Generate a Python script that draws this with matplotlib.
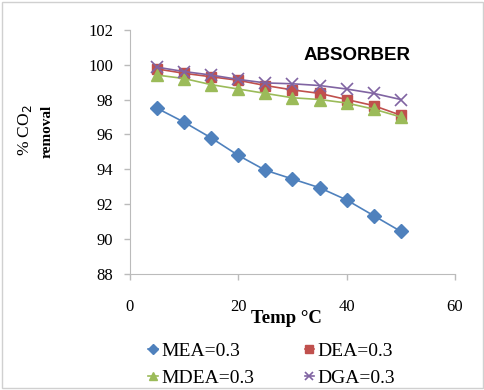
import matplotlib.pyplot as plt
from matplotlib.patches import Rectangle

# dados
temp = [5, 10, 15, 20, 25, 30, 35, 40, 45, 50]
mea = [97.5, 96.7, 95.8, 94.8, 93.95, 93.45, 92.95, 92.25, 91.35, 90.45]
dea = [99.75, 99.5, 99.3, 99.1, 98.8, 98.55, 98.35, 98.0, 97.65, 97.1]
mdea = [99.4, 99.2, 98.85, 98.6, 98.35, 98.1, 98.0, 97.8, 97.45, 97.0]
dga = [99.85, 99.6, 99.4, 99.15, 98.95, 98.9, 98.8, 98.6, 98.35, 98.0]
labels = ["MEA=0.3", "DEA=0.3", "MDEA=0.3", "DGA=0.3"]

plt.rcParams['font.family'] = ['Liberation Serif', 'DejaVu Serif']

fig = plt.figure(figsize=(4.85, 3.9), dpi=100)
ax = fig.add_axes([0.268, 0.297, 0.67, 0.627])

l1, = ax.plot(temp, mea, color="#4F81BD", marker="D", markersize=7, lw=1.2, label=labels[0])
l2, = ax.plot(temp, dea, color="#C0504D", marker="s", markersize=7, lw=1.2, label=labels[1])
l3, = ax.plot(temp, mdea, color="#9BBB59", marker="^", markersize=8, lw=1.2, label=labels[2])
l4, = ax.plot(temp, dga, color="#8064A2", marker="x", markersize=8, mew=1.2, lw=1.2, label=labels[3])

ax.set_xlim(0, 60)
ax.set_ylim(88, 102)
ax.set_xticks([0, 20, 40, 60])
ax.set_yticks(range(88, 103, 2))
ax.tick_params(labelsize=12, length=4, color="#BBBBBB", width=1)
ax.tick_params(axis="x", pad=14)
ax.tick_params(axis="y", pad=8)
for s in ["top", "right"]:
    ax.spines[s].set_visible(False)
for s in ["left", "bottom"]:
    ax.spines[s].set_color("#BBBBBB")

ax.text(0.70, 0.895, "ABSORBER", transform=ax.transAxes, ha="center", va="center",
        fontsize=13.5, fontweight="bold", family="Liberation Sans")

# titulo eixo x por cima dos ticks
fig.text(0.59, 0.183, "Temp \u00b0C", ha="center", va="center", fontsize=13.5, fontweight="bold")
# titulo eixo y em duas linhas
fig.text(0.052, 0.667, "% CO$_2$", rotation=90, ha="center", va="center", fontsize=12.5)
fig.text(0.096, 0.664, "removal", rotation=90, ha="center", va="center", fontsize=11, fontweight="bold")

# legenda: linha 1 MEA / DEA, linha 2 MDEA / DGA
fig.legend([l1, l3, l2, l4], [labels[0], labels[2], labels[1], labels[3]],
           loc="center", bbox_to_anchor=(0.56, 0.065), ncol=2, frameon=False,
           fontsize=14, handlelength=0.5, handletextpad=0.15, columnspacing=2.6,
           labelspacing=0.45, markerscale=0.75, numpoints=1)

fig.add_artist(Rectangle((0.004, 0.004), 0.992, 0.992, transform=fig.transFigure,
                         fill=False, edgecolor="#D0D0D0", lw=1))

fig.savefig("out.png", dpi=100)
